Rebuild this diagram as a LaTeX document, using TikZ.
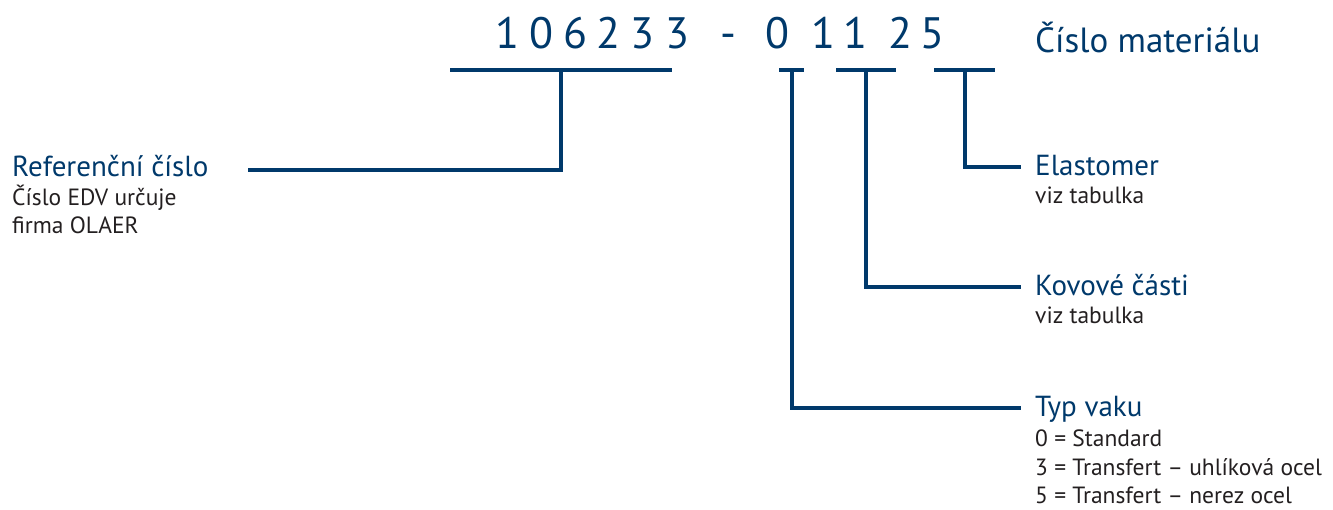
\documentclass[tikz,border=0pt]{standalone}
\usepackage{fontspec}
\setmainfont{PT Sans}
\definecolor{navy}{RGB}{0,57,107}
\definecolor{txtgray}{RGB}{35,31,32}
\tikzset{
  conn/.style={draw=navy, line width=4.6pt, line cap=butt, line join=miter},
  digit/.style={anchor=base, inner sep=0pt, text=navy, font=\fontsize{44}{44}\selectfont},
  title/.style={anchor=base west, inner sep=0pt, text=navy, font=\fontsize{29}{29}\selectfont},
  bigtitle/.style={anchor=base west, inner sep=0pt, text=navy, font=\fontsize{35}{35}\selectfont},
  small/.style={anchor=base west, inner sep=0pt, text=txtgray, font=\fontsize{23.5}{23.5}\selectfont}
}
\begin{document}
\begin{tikzpicture}[x=1pt,y=-1pt]
\useasboundingbox (0,0) rectangle (1333,509);
% digits
\node[digit] (d1) at (507,48) {1};
\node[digit] (d2) at (541,48) {0};
\node[digit] (d3) at (575,48) {6};
\node[digit] (d4) at (608,48) {2};
\node[digit] (d5) at (642,48) {3};
\node[digit] (d6) at (677,48) {3};
\node[digit] (dh) at (728,48) {-};
\node[digit] (d7) at (777,48) {0};
\node[digit] (d8) at (823,48) {1};
\node[digit] (d9) at (855,48) {1};
\node[digit] (d10) at (900,48) {2};
\node[digit] (d11) at (932,48) {5};
\node[bigtitle] (mat) at (1035,52) {Číslo materiálu};
% labels
\node[title] (ref) at (12,176) {Referenční číslo};
\node[small] (ref1) at (12,205) {Číslo EDV určuje};
\node[small] (ref2) at (12,233) {firma OLAER};
\node[title] (ela) at (1035,175) {Elastomer};
\node[small] (ela1) at (1035,203) {viz tabulka};
\node[title] (kov) at (1035,295) {Kovové části};
\node[small] (kov1) at (1035,323) {viz tabulka};
\node[title] (typ) at (1035,416) {Typ vaku};
\node[small] (typ1) at (1035,446) {0 = Standard};
\node[small] (typ2) at (1035,475) {3 = Transfert – uhlíková ocel};
\node[small] (typ3) at (1035,503) {5 = Transfert – nerez ocel};
% bars
\coordinate (b1l) at (450,70); \coordinate (b1r) at (672,70); \coordinate (b1m) at (561,70);
\coordinate (b2l) at (779,70); \coordinate (b2r) at (804,70); \coordinate (b2m) at (792,70);
\coordinate (b3l) at (836,70); \coordinate (b3r) at (896,70); \coordinate (b3m) at (866,70);
\coordinate (b4l) at (934,70); \coordinate (b4r) at (995,70); \coordinate (b4m) at (965,70);
\coordinate (refend) at (248,170);
\coordinate (elaend) at (1021,167);
\coordinate (kovend) at (1021,287);
\coordinate (typend) at (1021,408);
\draw[conn] (b1l) -- (b1r);
\draw[conn] (b2l) -- (b2r);
\draw[conn] (b3l) -- (b3r);
\draw[conn] (b4l) -- (b4r);
\draw[conn] (b1m) |- (refend);
\draw[conn] (b2m) |- (typend);
\draw[conn] (b3m) |- (kovend);
\draw[conn] (b4m) |- (elaend);
\end{tikzpicture}
\end{document}
